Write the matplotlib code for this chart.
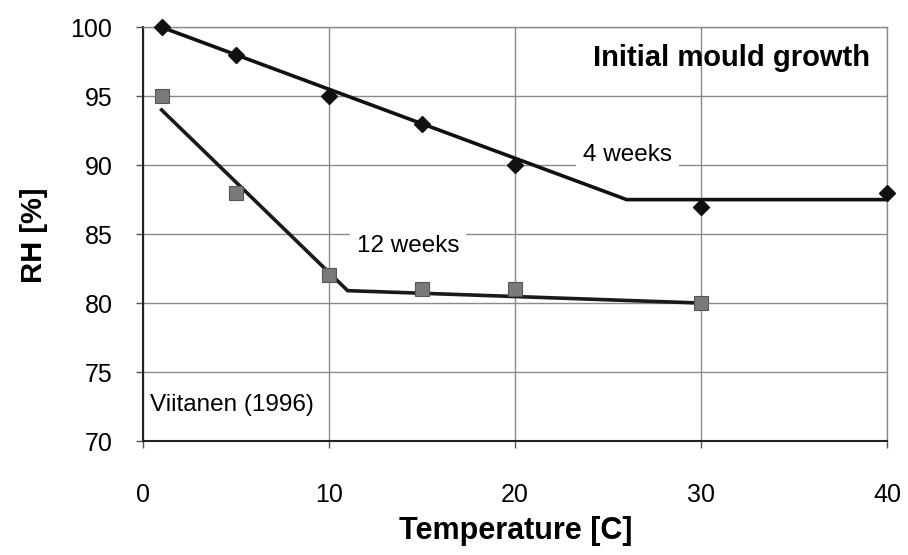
import matplotlib
matplotlib.use("Agg")
import matplotlib.pyplot as plt

plt.rcParams['font.family'] = ['Liberation Sans', 'DejaVu Sans']

# measured points
temp_4w = [1, 5, 10, 15, 20, 30, 40]
rh_4w = [100, 98, 95, 93, 90, 87, 88]
temp_12w = [1, 5, 10, 15, 20, 30]
rh_12w = [95, 88, 82, 81, 81, 80]

# limit curves
curve_4w_t = [1, 26, 40]
curve_4w_rh = [100, 87.5, 87.5]
curve_12w_t = [1, 11, 30]
curve_12w_rh = [94, 80.9, 80]

x_ticks = [0, 10, 20, 30, 40]
y_ticks = [70, 75, 80, 85, 90, 95, 100]

fig = plt.figure(figsize=(9.08, 5.55), dpi=100)
ax = fig.add_axes([0.1575, 0.2054, 0.8195, 0.7456])

ax.plot(curve_4w_t, curve_4w_rh, color='#111111', lw=2.6, zorder=3)
ax.plot(curve_12w_t, curve_12w_rh, color='#1a1a1a', lw=2.6, zorder=3)
ax.plot(temp_4w, rh_4w, ls='none', marker='D', ms=8, color='#111111',
        mec='#111111', zorder=4, clip_on=False)
ax.plot(temp_12w, rh_12w, ls='none', marker='s', ms=9.5, color='#7a7a7a',
        mec='#555555', mew=0.8, zorder=4, clip_on=False)

ax.set_xlim(0, 40)
ax.set_ylim(70, 100)
ax.set_xticks(x_ticks)
ax.set_yticks(y_ticks)
ax.grid(True, color='#8a8a8a', lw=1.0)
ax.set_axisbelow(True)
for side in ['top', 'right']:
    ax.spines[side].set_color('#8a8a8a')
    ax.spines[side].set_linewidth(1.0)
for side in ['left', 'bottom']:
    ax.spines[side].set_color('#222222')
    ax.spines[side].set_linewidth(1.5)

ax.tick_params(axis='both', direction='out', length=5, width=1, color='#555555',
               labelsize=18)
ax.tick_params(axis='y', pad=17)
ax.tick_params(axis='x', pad=25)

ax.set_xlabel('Temperature [C]', fontsize=22, fontweight='bold')
ax.set_ylabel('RH [%]', fontsize=21, fontweight='bold')
ax.xaxis.set_label_coords(0.501, -0.182)
ax.yaxis.set_label_coords(-0.128, 0.498)

ax.text(39.1, 97.8, 'Initial mould growth', fontsize=21, fontweight='bold',
        ha='right', va='center')
ax.text(23.65, 90.75, '4 weeks', fontsize=17.5, ha='left', va='center',
        bbox=dict(facecolor='white', edgecolor='none', pad=5), zorder=2)
ax.text(11.5, 84.15, '12 weeks', fontsize=17.5, ha='left', va='center',
        bbox=dict(facecolor='white', edgecolor='none', pad=5), zorder=2)
ax.text(0.4, 72.6, 'Viitanen (1996)', fontsize=17.5, ha='left', va='center')

fig.savefig('out.png', dpi=100, facecolor='white')
